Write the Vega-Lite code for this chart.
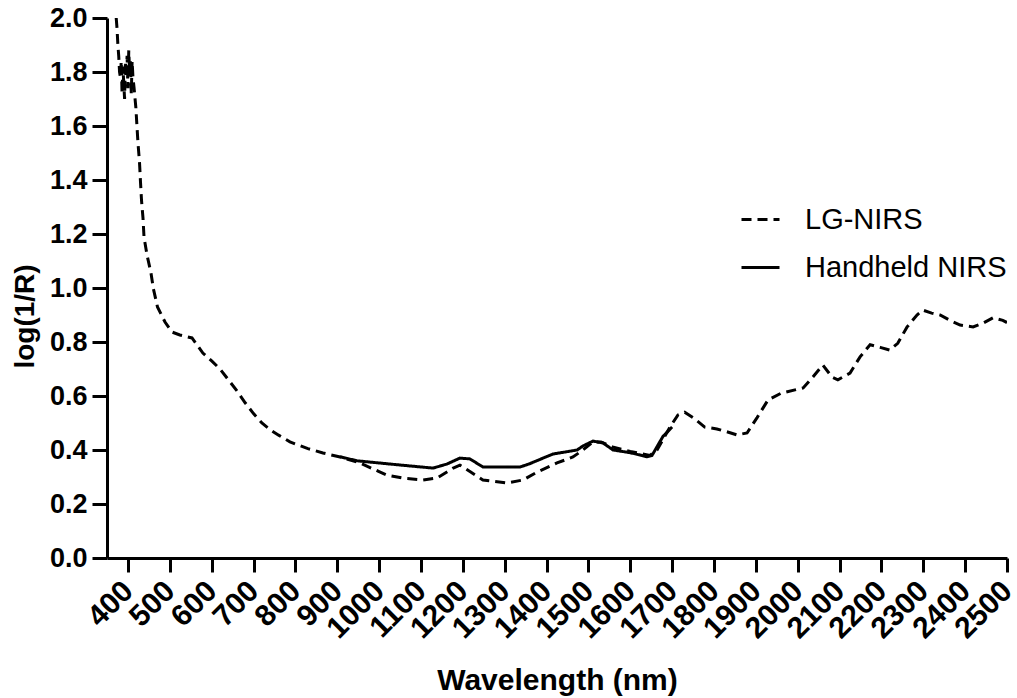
{
  "$schema": "https://vega.github.io/schema/vega-lite/v6.json",
  "autosize": {"type": "none"},
  "width": 900,
  "height": 540,
  "padding": {"left": 107, "top": 18, "right": 10, "bottom": 140},
  "background": "white",
  "config": {
    "view": {"stroke": null},
    "font": "Liberation Sans"
  },
  "data": {
    "values": [
      {"series": "LG-NIRS", "wl": 372, "v": 2.0},
      {"series": "LG-NIRS", "wl": 374, "v": 1.96},
      {"series": "LG-NIRS", "wl": 376, "v": 1.9},
      {"series": "LG-NIRS", "wl": 378, "v": 1.86},
      {"series": "LG-NIRS", "wl": 380, "v": 1.8},
      {"series": "LG-NIRS", "wl": 382, "v": 1.78},
      {"series": "LG-NIRS", "wl": 384, "v": 1.84},
      {"series": "LG-NIRS", "wl": 386, "v": 1.72},
      {"series": "LG-NIRS", "wl": 388, "v": 1.82},
      {"series": "LG-NIRS", "wl": 390, "v": 1.76},
      {"series": "LG-NIRS", "wl": 392, "v": 1.7},
      {"series": "LG-NIRS", "wl": 394, "v": 1.84},
      {"series": "LG-NIRS", "wl": 396, "v": 1.78},
      {"series": "LG-NIRS", "wl": 398, "v": 1.86},
      {"series": "LG-NIRS", "wl": 400, "v": 1.74},
      {"series": "LG-NIRS", "wl": 402, "v": 1.88},
      {"series": "LG-NIRS", "wl": 404, "v": 1.8},
      {"series": "LG-NIRS", "wl": 406, "v": 1.84},
      {"series": "LG-NIRS", "wl": 408, "v": 1.72},
      {"series": "LG-NIRS", "wl": 410, "v": 1.84},
      {"series": "LG-NIRS", "wl": 412, "v": 1.78},
      {"series": "LG-NIRS", "wl": 414.5, "v": 1.744},
      {"series": "LG-NIRS", "wl": 419, "v": 1.667},
      {"series": "LG-NIRS", "wl": 421.7, "v": 1.596},
      {"series": "LG-NIRS", "wl": 424, "v": 1.537},
      {"series": "LG-NIRS", "wl": 427.6, "v": 1.467},
      {"series": "LG-NIRS", "wl": 430, "v": 1.393},
      {"series": "LG-NIRS", "wl": 432.4, "v": 1.326},
      {"series": "LG-NIRS", "wl": 436, "v": 1.259},
      {"series": "LG-NIRS", "wl": 438.4, "v": 1.189},
      {"series": "LG-NIRS", "wl": 445.6, "v": 1.122},
      {"series": "LG-NIRS", "wl": 455, "v": 1.056},
      {"series": "LG-NIRS", "wl": 461, "v": 0.996},
      {"series": "LG-NIRS", "wl": 470.6, "v": 0.93},
      {"series": "LG-NIRS", "wl": 488.6, "v": 0.874},
      {"series": "LG-NIRS", "wl": 505, "v": 0.837},
      {"series": "LG-NIRS", "wl": 524, "v": 0.826},
      {"series": "LG-NIRS", "wl": 553, "v": 0.815},
      {"series": "LG-NIRS", "wl": 579, "v": 0.759},
      {"series": "LG-NIRS", "wl": 600, "v": 0.73},
      {"series": "LG-NIRS", "wl": 620, "v": 0.7},
      {"series": "LG-NIRS", "wl": 660, "v": 0.62},
      {"series": "LG-NIRS", "wl": 680, "v": 0.575},
      {"series": "LG-NIRS", "wl": 700, "v": 0.535},
      {"series": "LG-NIRS", "wl": 720, "v": 0.5},
      {"series": "LG-NIRS", "wl": 740, "v": 0.475},
      {"series": "LG-NIRS", "wl": 760, "v": 0.455},
      {"series": "LG-NIRS", "wl": 787, "v": 0.43},
      {"series": "LG-NIRS", "wl": 830, "v": 0.405},
      {"series": "LG-NIRS", "wl": 866, "v": 0.389},
      {"series": "LG-NIRS", "wl": 907, "v": 0.374},
      {"series": "LG-NIRS", "wl": 954, "v": 0.352},
      {"series": "LG-NIRS", "wl": 1000, "v": 0.32},
      {"series": "LG-NIRS", "wl": 1019, "v": 0.307},
      {"series": "LG-NIRS", "wl": 1060, "v": 0.295},
      {"series": "LG-NIRS", "wl": 1105, "v": 0.289},
      {"series": "LG-NIRS", "wl": 1138, "v": 0.296},
      {"series": "LG-NIRS", "wl": 1177, "v": 0.333},
      {"series": "LG-NIRS", "wl": 1193, "v": 0.344},
      {"series": "LG-NIRS", "wl": 1217, "v": 0.32},
      {"series": "LG-NIRS", "wl": 1248, "v": 0.289},
      {"series": "LG-NIRS", "wl": 1305, "v": 0.278},
      {"series": "LG-NIRS", "wl": 1344, "v": 0.289},
      {"series": "LG-NIRS", "wl": 1377, "v": 0.318},
      {"series": "LG-NIRS", "wl": 1425, "v": 0.352},
      {"series": "LG-NIRS", "wl": 1463, "v": 0.374},
      {"series": "LG-NIRS", "wl": 1487, "v": 0.4},
      {"series": "LG-NIRS", "wl": 1511, "v": 0.43},
      {"series": "LG-NIRS", "wl": 1530, "v": 0.43},
      {"series": "LG-NIRS", "wl": 1560, "v": 0.41},
      {"series": "LG-NIRS", "wl": 1600, "v": 0.395},
      {"series": "LG-NIRS", "wl": 1647, "v": 0.38},
      {"series": "LG-NIRS", "wl": 1664, "v": 0.4},
      {"series": "LG-NIRS", "wl": 1695, "v": 0.485},
      {"series": "LG-NIRS", "wl": 1714, "v": 0.53},
      {"series": "LG-NIRS", "wl": 1730, "v": 0.54},
      {"series": "LG-NIRS", "wl": 1750, "v": 0.52},
      {"series": "LG-NIRS", "wl": 1778, "v": 0.485},
      {"series": "LG-NIRS", "wl": 1807, "v": 0.478},
      {"series": "LG-NIRS", "wl": 1830, "v": 0.468},
      {"series": "LG-NIRS", "wl": 1855, "v": 0.456},
      {"series": "LG-NIRS", "wl": 1879, "v": 0.463},
      {"series": "LG-NIRS", "wl": 1903, "v": 0.52},
      {"series": "LG-NIRS", "wl": 1929, "v": 0.585},
      {"series": "LG-NIRS", "wl": 1960, "v": 0.61},
      {"series": "LG-NIRS", "wl": 2000, "v": 0.625},
      {"series": "LG-NIRS", "wl": 2013, "v": 0.63},
      {"series": "LG-NIRS", "wl": 2036, "v": 0.67},
      {"series": "LG-NIRS", "wl": 2060, "v": 0.715},
      {"series": "LG-NIRS", "wl": 2082, "v": 0.67},
      {"series": "LG-NIRS", "wl": 2096, "v": 0.66},
      {"series": "LG-NIRS", "wl": 2125, "v": 0.685},
      {"series": "LG-NIRS", "wl": 2149, "v": 0.745},
      {"series": "LG-NIRS", "wl": 2173, "v": 0.79},
      {"series": "LG-NIRS", "wl": 2197, "v": 0.78},
      {"series": "LG-NIRS", "wl": 2220, "v": 0.77},
      {"series": "LG-NIRS", "wl": 2239, "v": 0.795},
      {"series": "LG-NIRS", "wl": 2261, "v": 0.855},
      {"series": "LG-NIRS", "wl": 2285, "v": 0.9},
      {"series": "LG-NIRS", "wl": 2299, "v": 0.918},
      {"series": "LG-NIRS", "wl": 2320, "v": 0.907},
      {"series": "LG-NIRS", "wl": 2340, "v": 0.9},
      {"series": "LG-NIRS", "wl": 2364, "v": 0.88},
      {"series": "LG-NIRS", "wl": 2388, "v": 0.863},
      {"series": "LG-NIRS", "wl": 2419, "v": 0.856},
      {"series": "LG-NIRS", "wl": 2443, "v": 0.87},
      {"series": "LG-NIRS", "wl": 2467, "v": 0.89},
      {"series": "LG-NIRS", "wl": 2490, "v": 0.88},
      {"series": "LG-NIRS", "wl": 2500, "v": 0.872},
      {"series": "Handheld NIRS", "wl": 907, "v": 0.375},
      {"series": "Handheld NIRS", "wl": 947, "v": 0.36},
      {"series": "Handheld NIRS", "wl": 1000, "v": 0.352},
      {"series": "Handheld NIRS", "wl": 1026, "v": 0.348},
      {"series": "Handheld NIRS", "wl": 1080, "v": 0.34},
      {"series": "Handheld NIRS", "wl": 1129, "v": 0.333},
      {"series": "Handheld NIRS", "wl": 1162, "v": 0.348},
      {"series": "Handheld NIRS", "wl": 1193, "v": 0.37},
      {"series": "Handheld NIRS", "wl": 1217, "v": 0.367},
      {"series": "Handheld NIRS", "wl": 1248, "v": 0.337},
      {"series": "Handheld NIRS", "wl": 1289, "v": 0.337},
      {"series": "Handheld NIRS", "wl": 1337, "v": 0.337},
      {"series": "Handheld NIRS", "wl": 1361, "v": 0.35},
      {"series": "Handheld NIRS", "wl": 1415, "v": 0.385},
      {"series": "Handheld NIRS", "wl": 1473, "v": 0.4},
      {"series": "Handheld NIRS", "wl": 1487, "v": 0.415},
      {"series": "Handheld NIRS", "wl": 1511, "v": 0.433},
      {"series": "Handheld NIRS", "wl": 1535, "v": 0.426},
      {"series": "Handheld NIRS", "wl": 1559, "v": 0.4},
      {"series": "Handheld NIRS", "wl": 1600, "v": 0.39},
      {"series": "Handheld NIRS", "wl": 1640, "v": 0.375},
      {"series": "Handheld NIRS", "wl": 1652, "v": 0.38},
      {"series": "Handheld NIRS", "wl": 1678, "v": 0.45},
      {"series": "Handheld NIRS", "wl": 1700, "v": 0.485}
    ]
  },
  "mark": {"type": "line", "color": "black", "strokeWidth": 3, "clip": true},
  "encoding": {
    "x": {
      "field": "wl",
      "type": "quantitative",
      "scale": {"domain": [350, 2500], "nice": false, "zero": false},
      "axis": {
        "title": "Wavelength (nm)",
        "values": [400, 500, 600, 700, 800, 900, 1000, 1100, 1200, 1300, 1400, 1500, 1600, 1700, 1800, 1900, 2000, 2100, 2200, 2300, 2400, 2500],
        "format": "d",
        "grid": false,
        "domainColor": "black",
        "domainWidth": 3,
        "tickColor": "black",
        "tickWidth": 3,
        "tickSize": 14,
        "labelColor": "black",
        "labelFont": "Liberation Sans",
        "labelFontWeight": "bold",
        "labelFontSize": 30,
        "labelAngle": -45,
        "labelAlign": "right",
        "labelBaseline": "middle",
        "labelPadding": 14,
        "labelOverlap": false,
        "labelFlush": false,
        "titleFont": "Liberation Sans",
        "titleFontWeight": "bold",
        "titleFontSize": 30,
        "titleColor": "black",
        "titleX": 450,
        "titleY": 131,
        "titleBaseline": "alphabetic",
        "titleAlign": "center"
      }
    },
    "y": {
      "field": "v",
      "type": "quantitative",
      "scale": {"domain": [0, 2], "nice": false},
      "axis": {
        "title": "log(1/R)",
        "values": [0, 0.2, 0.4, 0.6, 0.8, 1.0, 1.2, 1.4, 1.6, 1.8, 2.0],
        "format": ".1f",
        "grid": false,
        "domainColor": "black",
        "domainWidth": 3,
        "tickColor": "black",
        "tickWidth": 3,
        "tickSize": 15,
        "labelColor": "black",
        "labelFont": "Liberation Sans",
        "labelFontWeight": "bold",
        "labelFontSize": 27,
        "labelPadding": 5,
        "labelOverlap": false,
        "labelFlush": false,
        "titleFont": "Liberation Sans",
        "titleFontWeight": "bold",
        "titleFontSize": 28,
        "titleColor": "black",
        "titleAngle": 270,
        "titleAlign": "center",
        "titleBaseline": "alphabetic",
        "titleX": -74,
        "titleY": 298
      }
    },
    "strokeDash": {
      "field": "series",
      "type": "nominal",
      "scale": {"domain": ["LG-NIRS", "Handheld NIRS"], "range": [[10, 6], [1, 0]]},
      "legend": {
        "title": null,
        "orient": "none",
        "legendX": 633,
        "legendY": 181,
        "padding": 0,
        "symbolType": "stroke",
        "symbolSize": 1444,
        "symbolStrokeWidth": 3,
        "symbolStrokeColor": "black",
        "labelFont": "Liberation Sans",
        "labelFontSize": 29,
        "labelColor": "black",
        "labelOffset": 24,
        "rowPadding": 12,
        "labelLimit": 400
      }
    }
  }
}
